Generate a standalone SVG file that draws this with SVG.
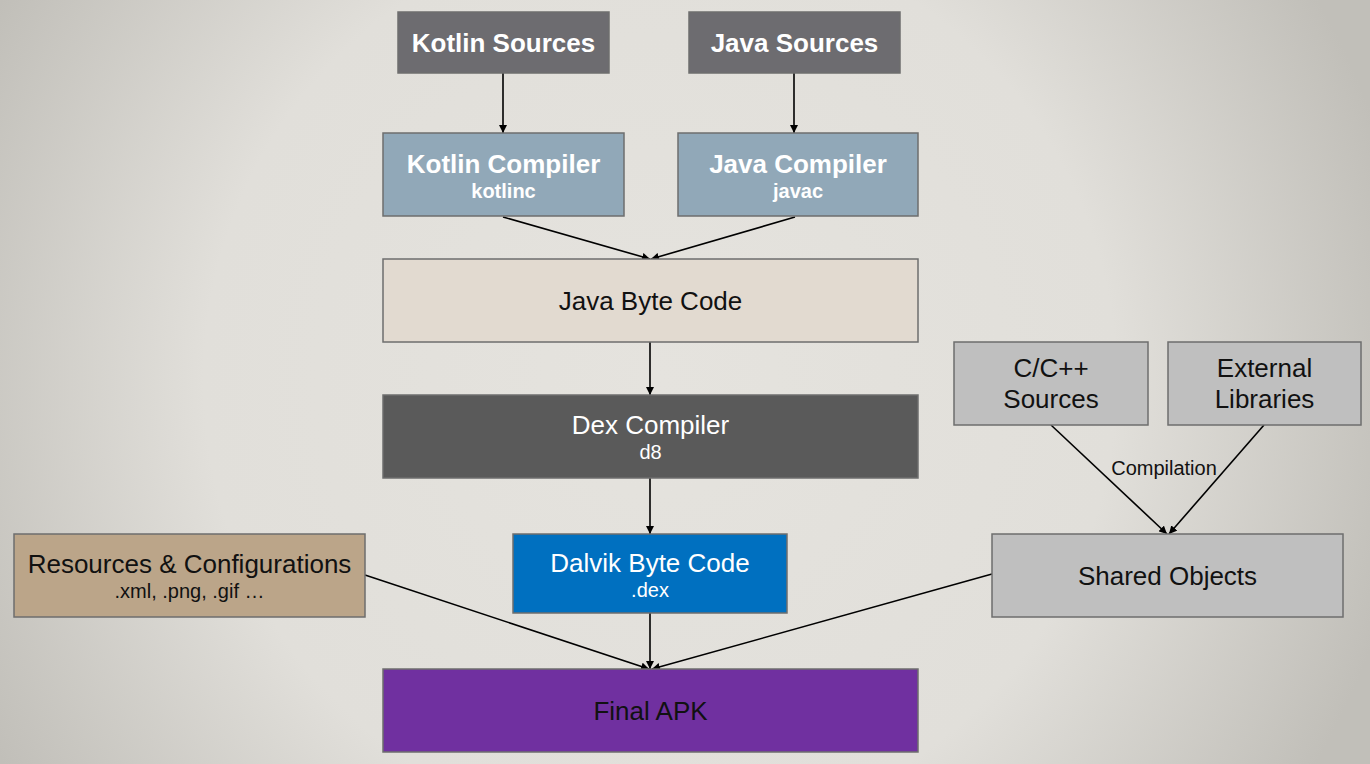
<svg xmlns="http://www.w3.org/2000/svg" width="1370" height="764" viewBox="0 0 1370 764">
<defs>
<radialGradient id="bg" cx="660" cy="380" r="760" gradientUnits="userSpaceOnUse">
<stop offset="0" stop-color="#e5e3de"/>
<stop offset="0.6" stop-color="#e1dfda"/>
<stop offset="1" stop-color="#c1bfb9"/>
</radialGradient>
<marker id="ah" viewBox="0 0 10 10" refX="10" refY="5" markerWidth="8" markerHeight="8" markerUnits="userSpaceOnUse" orient="auto">
<path d="M0,0 L10,5 L0,10 z" fill="#000"/>
</marker>
</defs>
<style>
.box{stroke:#6e6e6e;stroke-width:1.5}
.t{font-family:"Liberation Sans",Arial,sans-serif;text-anchor:middle}
.b{font-weight:bold}
.w{fill:#fff}
.k{fill:#111}
.big{font-size:26px}
.sm{font-size:20px}
.c{stroke:#000;stroke-width:1.6;fill:none;marker-end:url(#ah)}
</style>
<rect width="1370" height="764" fill="url(#bg)"/>
<g id="connectors">
<line class="c" x1="503" y1="73" x2="503" y2="133"/>
<line class="c" x1="794" y1="73" x2="794" y2="133"/>
<line class="c" x1="503" y1="217" x2="650" y2="259"/>
<line class="c" x1="795" y1="217" x2="651" y2="259"/>
<line class="c" x1="650" y1="342" x2="650" y2="395"/>
<line class="c" x1="650" y1="478" x2="650" y2="534"/>
<line class="c" x1="650" y1="613" x2="650" y2="669"/>
<line class="c" x1="365" y1="575" x2="649" y2="669"/>
<line class="c" x1="992" y1="574" x2="652" y2="669"/>
<line class="c" x1="1051" y1="425" x2="1167" y2="534"/>
<line class="c" x1="1264" y1="425" x2="1169" y2="534"/>
<text class="t" x="1164" y="475" font-size="20" fill="#111">Compilation</text>
</g>
<g id="kotlin-sources">
<rect class="box" x="398" y="12" width="211" height="61" fill="#6d6c70"/>
<text class="t b w big" x="503.5" y="52">Kotlin Sources</text>
</g>
<g id="java-sources">
<rect class="box" x="689" y="12" width="211" height="61" fill="#6d6c70"/>
<text class="t b w big" x="794.5" y="52">Java Sources</text>
</g>
<g id="kotlin-compiler">
<rect class="box" x="383" y="133" width="241" height="83" fill="#91a8b8"/>
<text class="t b w big" x="503.5" y="173">Kotlin Compiler</text>
<text class="t b w sm" x="503.5" y="198">kotlinc</text>
</g>
<g id="java-compiler">
<rect class="box" x="678" y="133" width="240" height="83" fill="#91a8b8"/>
<text class="t b w big" x="798" y="173">Java Compiler</text>
<text class="t b w sm" x="798" y="198">javac</text>
</g>
<g id="java-byte-code">
<rect class="box" x="383" y="259" width="535" height="83" fill="#e2dad0"/>
<text class="t k big" x="650.5" y="310">Java Byte Code</text>
</g>
<g id="dex-compiler">
<rect class="box" x="383" y="395" width="535" height="83" fill="#5a5a5a"/>
<text class="t w big" x="650.5" y="434">Dex Compiler</text>
<text class="t w sm" x="650.5" y="459">d8</text>
</g>
<g id="dalvik-byte-code">
<rect class="box" x="513" y="534" width="274" height="79" fill="#0070c0"/>
<text class="t w big" x="650" y="572">Dalvik Byte Code</text>
<text class="t w sm" x="650" y="597">.dex</text>
</g>
<g id="resources">
<rect class="box" x="14" y="534" width="351" height="83" fill="#bba589"/>
<text class="t k big" x="189.5" y="573">Resources &amp; Configurations</text>
<text class="t k sm" x="189.5" y="598">.xml, .png, .gif …</text>
</g>
<g id="cpp-sources">
<rect class="box" x="954" y="342" width="194" height="83" fill="#bfbfbf"/>
<text class="t k big" x="1051" y="377">C/C++</text>
<text class="t k big" x="1051" y="408">Sources</text>
</g>
<g id="external-libraries">
<rect class="box" x="1168" y="342" width="193" height="83" fill="#bfbfbf"/>
<text class="t k big" x="1264.5" y="377">External</text>
<text class="t k big" x="1264.5" y="408">Libraries</text>
</g>
<g id="shared-objects">
<rect class="box" x="992" y="534" width="351" height="83" fill="#bfbfbf"/>
<text class="t k big" x="1167.5" y="585">Shared Objects</text>
</g>
<g id="final-apk">
<rect class="box" x="383" y="669" width="535" height="83" fill="#7030a0"/>
<text class="t k big" x="650.5" y="720">Final APK</text>
</g>
</svg>
